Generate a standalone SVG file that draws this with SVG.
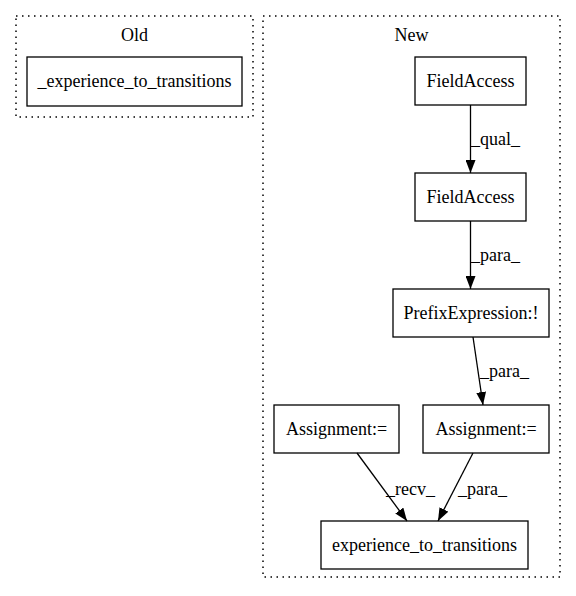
<svg xmlns="http://www.w3.org/2000/svg" width="576" height="596" viewBox="0 0 576 596">
<style>
.cl{fill:none;stroke:#000;stroke-dasharray:1.5,4.5;stroke-width:1.5}
.nd{fill:#fff;stroke:#000;stroke-width:1.3}
text{font-family:"Liberation Serif","Times New Roman",serif;font-size:18px;fill:#000}
.c{text-anchor:middle}
.e{fill:none;stroke:#000;stroke-width:1.3;marker-end:url(#ah)}
</style>
<defs>
<marker id="ah" markerWidth="13" markerHeight="10" refX="13" refY="5" orient="auto" markerUnits="userSpaceOnUse">
<path d="M0,0 L13,5 L0,10 Z" fill="#000"/>
</marker>
</defs>
<rect width="576" height="596" fill="#fff"/>
<g id="cluster_old">
<rect class="cl" x="16" y="16" width="237" height="101"/>
<text class="c" x="134.5" y="41">Old</text>
</g>
<g id="cluster_new">
<rect class="cl" x="263" y="16" width="297" height="561"/>
<text class="c" x="411.5" y="41">New</text>
</g>
<g id="old_exp">
<rect class="nd" x="27" y="57" width="215" height="49"/>
<text class="c" x="134.5" y="87">_experience_to_transitions</text>
</g>
<g id="fa1">
<rect class="nd" x="415" y="57" width="111" height="48"/>
<text class="c" x="470.5" y="87">FieldAccess</text>
</g>
<g id="fa2">
<rect class="nd" x="415" y="173" width="111" height="48"/>
<text class="c" x="470.5" y="203">FieldAccess</text>
</g>
<g id="prefix">
<rect class="nd" x="393" y="289" width="156" height="48"/>
<text class="c" x="471" y="319">PrefixExpression:!</text>
</g>
<g id="assign_l">
<rect class="nd" x="274" y="405" width="125" height="48"/>
<text class="c" x="336.5" y="435">Assignment:=</text>
</g>
<g id="assign_r">
<rect class="nd" x="423" y="405" width="126" height="48"/>
<text class="c" x="486" y="435">Assignment:=</text>
</g>
<g id="exp">
<rect class="nd" x="321" y="521" width="207" height="48"/>
<text class="c" x="424.5" y="551">experience_to_transitions</text>
</g>
<g id="edges">
<path class="e" d="M470.5,105 L470.5,173"/>
<text x="471" y="145">_qual_</text>
<path class="e" d="M470.5,221 L470.5,289"/>
<text x="471" y="261">_para_</text>
<path class="e" d="M473,337 L483,405"/>
<text x="480" y="377">_para_</text>
<path class="e" d="M357,453 L407,521"/>
<text x="386" y="495">_recv_</text>
<path class="e" d="M473,453 L438,521"/>
<text x="458" y="495">_para_</text>
</g>
</svg>
